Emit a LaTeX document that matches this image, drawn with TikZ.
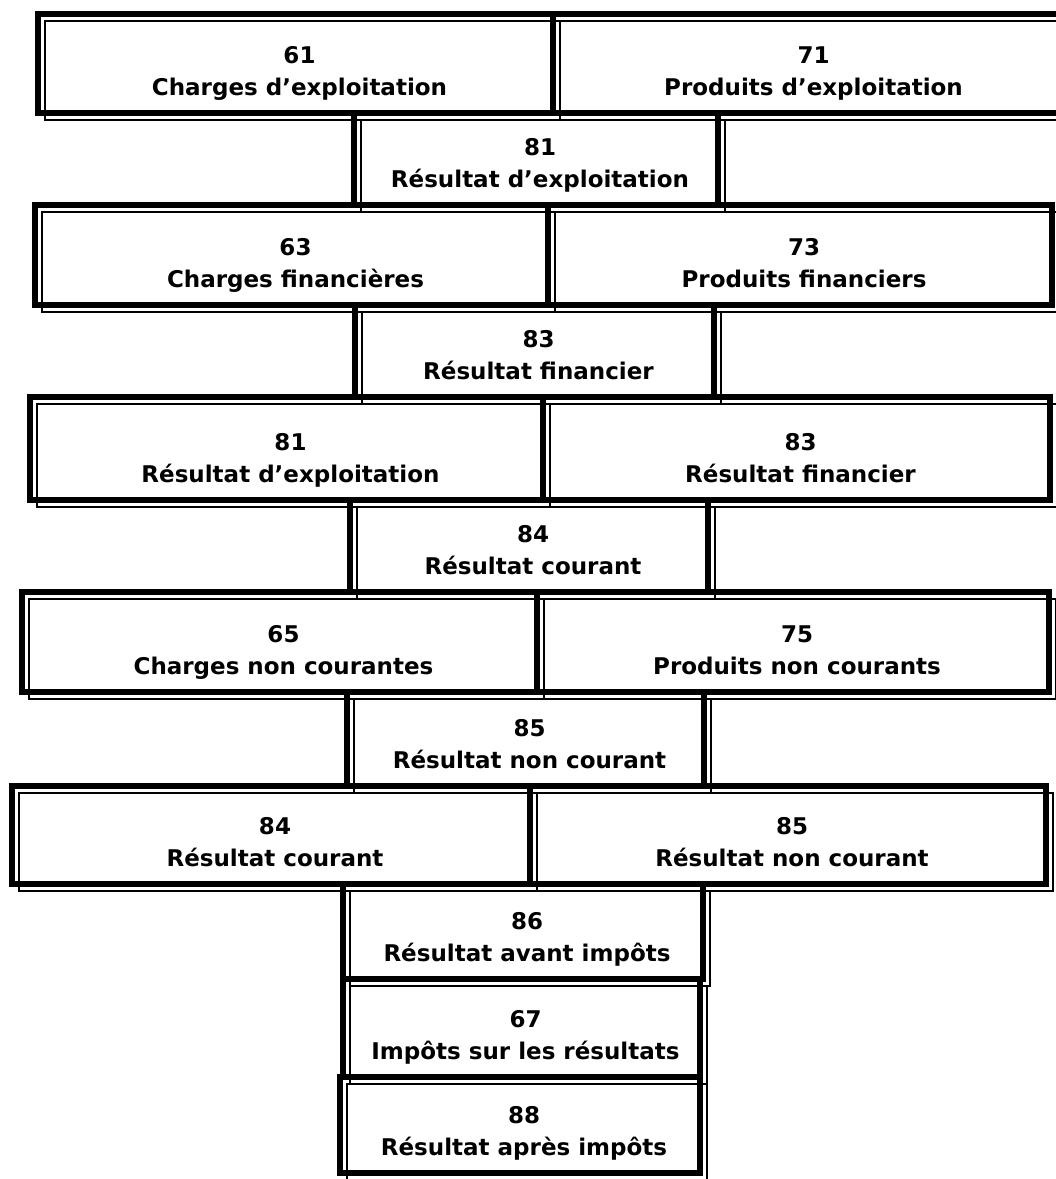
\documentclass[tikz,border=0pt]{standalone}
\usepackage{fontspec}
\setmainfont{DejaVu Sans}
\begin{document}
\begin{tikzpicture}[x=1pt,y=-1pt,
  outerframe/.style={draw=black, line width=5.5pt, outer sep=0pt, inner sep=0pt, fill=none},
  innerframe/.style={draw=black, line width=1.6pt},
  celltext/.style={anchor=base, inner sep=0pt, font=\bfseries\fontsize{23}{23}\selectfont}]
\useasboundingbox (0,0) rectangle (1056,1179);
\fill[white] (0,0) rectangle (1056,1179);
\clip (0,0) rectangle (1056,1179);
% name / left / top / right / bottom / account / caption
\def\cells{
  c61/38/14/553/113/61/Charges d’exploitation,
  c71/553/14/1066/113/71/Produits d’exploitation,
  c81a/354/113/718/205/81/Résultat d’exploitation,
  c63/35/205/548/305/63/Charges financières,
  c73/548/205/1052/305/73/Produits financiers,
  c83a/355/305/714/397/83/Résultat financier,
  c81b/30/397/543/500/81/Résultat d’exploitation,
  c83b/543/397/1050/500/83/Résultat financier,
  c84a/350/500/708/592/84/Résultat courant,
  c65/22/592/537/692/65/Charges non courantes,
  c75/537/592/1049/692/75/Produits non courants,
  c85a/347/692/704/786/85/Résultat non courant,
  c84b/12/786/530/884/84/Résultat courant,
  c85b/530/786/1046/884/85/Résultat non courant,
  c86/343/884/703/979/86/Résultat avant impôts,
  c67/343/979/700/1077/67/Impôts sur les résultats,
  c88/340/1077/700/1173/88/Résultat après impôts}
% cell frames: a heavy rule with a thin rule offset below and to the right
\foreach \n/\xa/\ya/\xb/\yb/\num/\lab in \cells {
  \node[outerframe, minimum width=\xb-\xa, minimum height=\yb-\ya]
    (\n) at ({(\xa+\xb)/2},{(\ya+\yb)/2}) {};
  \draw[innerframe] ([shift={(7,7)}]\n.south west) rectangle ([shift={(7,7)}]\n.north east);
}
% account numbers and captions
\foreach \n/\xa/\ya/\xb/\yb/\num/\lab in \cells {
  \node[celltext] (\n-num) at ({(\xa+\xb)/2+4},\yb-50) {\num};
  \node[celltext] (\n-lab) at ({(\xa+\xb)/2+4},\yb-18) {\lab};
}
\end{tikzpicture}
\end{document}
